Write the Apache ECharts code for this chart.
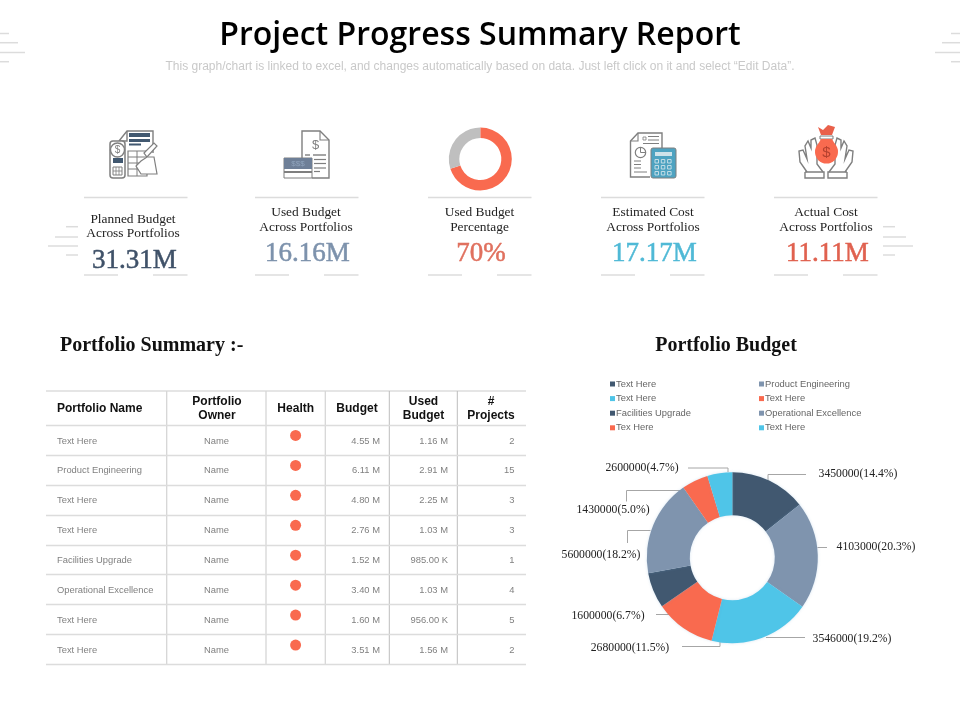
<!DOCTYPE html>
<html>
<head>
<meta charset="utf-8">
<title>Project Progress Summary Report</title>
<script src="https://cdn.jsdelivr.net/npm/echarts@6/dist/echarts.min.js"></script>
<style>
  html, body { margin: 0; padding: 0; background: #fff; }
  #main { width: 960px; height: 720px; }
</style>
</head>
<body>
<div id="main"></div>
<script>
// kpi strip
var kpiLabels = [['Planned Budget', 'Across Portfolios'], ['Used Budget', 'Across Portfolios'], ['Used Budget', 'Percentage'], ['Estimated Cost', 'Across Portfolios'], ['Actual Cost', 'Across Portfolios']];
var kpiValues = ['31.31M', '16.16M', '70%', '17.17M', '11.11M'];
var usedBudgetPercent = 70;

// table
var tableHeaders = [['Portfolio Name'], ['Portfolio', 'Owner'], ['Health'], ['Budget'], ['Used', 'Budget'], ['#', 'Projects']];
var portfolioNames = ['Text Here', 'Product Engineering', 'Text Here', 'Text Here', 'Facilities Upgrade', 'Operational Excellence', 'Text Here', 'Text Here'];
var portfolioOwners = ['Name', 'Name', 'Name', 'Name', 'Name', 'Name', 'Name', 'Name'];
var healthFlags = [1, 1, 1, 1, 1, 1, 1, 1];
var budgets = ['4.55 M', '6.11 M', '4.80 M', '2.76 M', '1.52 M', '3.40 M', '1.60 M', '3.51 M'];
var usedBudgets = ['1.16 M', '2.91 M', '2.25 M', '1.03 M', '985.00 K', '1.03 M', '956.00 K', '1.56 M'];
var projectCounts = ['2', '15', '3', '3', '1', '4', '5', '2'];

// donut
var legendNames = ['Text Here', 'Product Engineering', 'Text Here', 'Text Here', 'Facilities Upgrade', 'Operational Excellence', 'Tex Here', 'Text Here'];
var budgetAmounts = [3450000, 4103000, 3546000, 2680000, 1600000, 5600000, 1430000, 2600000];
var budgetShares = [14.4, 20.3, 19.2, 11.5, 6.7, 18.2, 5.0, 4.7];

// colours
var DARK = '#415870', SLATE = '#7F94AE', CYAN = '#4FC5E8', ORANGE = '#F96A4F', LINE = '#DCDCDC', ICON = '#7F7F7F';
var sliceColors = [DARK, SLATE, CYAN, ORANGE, DARK, SLATE, ORANGE, CYAN];
var kpiColors = ['#3F5168', '#7D92AC', '#E0705E', '#4FB9D6', '#E0614F'];

// layout only, page pixels
var kpiCenters = [133, 306, 479.5, 653, 826];
var kpiRuleLefts = [84, 255, 428, 601, 774];
var columnEdges = [166.7, 266, 325.3, 389.3, 457.3];
var headerCenters = [null, 217, 295.7, 357, 423.5, 491];
// label centre and leader path of each slice
var labelSpots = [[858, 474], [876, 547], [852, 638.5], [630, 648], [608, 616], [601, 555], [613, 510], [642, 468]];
var leaderPaths = [
  [[768, 481], [768, 474.5], [806, 474.5]],
  [[817.5, 547.5], [827, 547.5], [827, 547.5]],
  [[766, 637.5], [766, 637.5], [805, 637.5]],
  [[720, 640], [720, 646.5], [682, 646.5]],
  [[669, 614.5], [669, 614.5], [656, 614.5]],
  [[650.5, 530.5], [627.5, 530.5], [627.5, 543]],
  [[683, 490.5], [626.5, 490.5], [626.5, 501.5]],
  [[728, 472], [728, 468], [688, 468]]
];

var SERIF = '"Liberation Serif", serif', SANS = '"Liberation Sans", sans-serif';
var elements = [];

function txt(x, y, text, size, color, font, align, weight, thicken) {
  elements.push({ type: 'text', x: x, y: y, silent: true, style: {
    text: text, fill: color, font: (weight || 'normal') + ' ' + size + 'px ' + font,
    align: align || 'center', verticalAlign: 'middle',
    stroke: thicken ? color : null, lineWidth: thicken || 0 } });
}
function hline(x1, x2, y, w, color) {
  elements.push({ type: 'line', silent: true, shape: { x1: x1, y1: y, x2: x2, y2: y }, style: { stroke: color || LINE, lineWidth: w || 1.5 } });
}
function vline(x, y1, y2, w, color) {
  elements.push({ type: 'line', silent: true, shape: { x1: x, y1: y1, x2: x, y2: y2 }, style: { stroke: color || LINE, lineWidth: w || 1.5 } });
}
function box(x, y, w, h, fill, stroke, lw, r) {
  elements.push({ type: 'rect', silent: true, shape: { x: x, y: y, width: w, height: h, r: r || 0 },
    style: { fill: fill || 'none', stroke: stroke || 'none', lineWidth: lw || 1 } });
}
function ring(x, y, r, fill, stroke, lw) {
  elements.push({ type: 'circle', silent: true, shape: { cx: x, cy: y, r: r }, style: { fill: fill || 'none', stroke: stroke || 'none', lineWidth: lw || 1 } });
}
function poly(points, stroke, lw, fill) {
  elements.push({ type: fill ? 'polygon' : 'polyline', silent: true, shape: { points: points },
    style: { fill: fill || 'none', stroke: stroke || 'none', lineWidth: lw || 1.4 } });
}

// corner and side dashes
[[33.5, 9], [42.7, 18], [52.5, 25], [61.7, 9]].forEach(function (d) {
  hline(0, d[1], d[0]);
  hline(960 - d[1], 960, d[0]);
});
[[226.7, 12], [237, 23], [246, 30], [255, 12]].forEach(function (d) {
  hline(78 - d[1], 78, d[0]);
  hline(883, 883 + d[1], d[0]);
});

// kpi captions and rules
kpiCenters.forEach(function (cx, i) {
  var shift = i === 0 ? 6.5 : 0, left = kpiRuleLefts[i];
  hline(left, left + 103.5, 197.5);
  hline(left, left + 34, 275);
  hline(left + 69, left + 103.5, 275);
  txt(cx, 212.8 + shift, kpiLabels[i][0], 13.4, '#222', SERIF);
  txt(cx, 227 + shift, kpiLabels[i][1], 13.4, '#222', SERIF);
  txt(cx + 1.5, 254 + shift, kpiValues[i], 27, kpiColors[i], SERIF, 'center', 'normal', 0.5);
});

// icon 1, planned budget
poly([[119, 141], [127, 131], [153, 131], [153, 153]], ICON);
poly([[119, 141], [127, 141], [127, 131]], ICON);
box(110, 141, 15, 37, '#fff', ICON, 1.5, 3);
ring(117.5, 150, 7, '#fff', ICON, 1.4);
txt(117.5, 150.5, '$', 10, ICON, SANS);
box(113, 158, 10, 5, DARK);
box(113, 167, 9, 8, 'none', ICON, 1);
vline(116, 167, 175, 0.8, ICON);
vline(119, 167, 175, 0.8, ICON);
hline(113, 122, 171, 0.8, ICON);
box(129, 133, 21, 4, DARK);
box(129, 139, 21, 3, DARK);
box(129, 143.5, 12, 2, DARK);
box(128, 151, 19, 25, 'none', ICON, 1.2);
hline(128, 147, 157, 1, ICON);
hline(128, 147, 163, 1, ICON);
hline(128, 147, 169, 1, ICON);
vline(137, 151, 176, 1, ICON);
poly([[144, 153], [154, 143], [157, 146], [147, 157]], ICON, 1.2, '#fff');
poly([[147, 157], [154, 157], [157, 174], [141, 174], [136, 166], [141, 161]], ICON, 1.2, '#fff');

// icon 2, used budget
poly([[302, 158], [302, 131], [320, 131], [329, 140], [329, 178], [312, 178]], ICON);
poly([[320, 131], [320, 140], [329, 140]], ICON, 1.1);
txt(315.5, 145.5, '$', 13, ICON, SANS);
hline(305, 310, 155, 1.4, ICON);
hline(313, 326, 155, 1.4, ICON);
hline(314, 326, 159.5, 1.2, ICON);
hline(314, 326, 163.5, 1.2, ICON);
hline(314, 326, 168, 1.2, ICON);
hline(314, 320, 171.5, 1.2, ICON);
box(284, 158, 28, 20, '#fff', ICON, 1);
box(284, 158, 28, 11, '#6E7F97');
box(284, 171, 28, 2, ICON);
txt(298, 163.5, '$$$', 8, '#8FA3BC', SANS);

// icon 4, estimated cost
poly([[650, 177], [630.5, 177], [630.5, 141], [638, 133], [662, 133], [662, 148]], ICON);
poly([[630.5, 141], [638, 141], [638, 133]], ICON, 1.1);
ring(640.5, 152.5, 5.2, 'none', ICON, 1.2);
poly([[640.5, 147.5], [640.5, 152.5], [645.5, 152.5]], ICON, 1);
box(643, 137, 3, 3, 'none', ICON, 0.8);
hline(648, 659, 136.5, 1, ICON);
hline(648, 659, 140, 1, ICON);
hline(643, 659, 143.5, 1, ICON);
hline(634, 641, 161, 1, ICON);
hline(634, 641, 164.5, 1, ICON);
hline(634, 641, 168, 1, ICON);
hline(634, 647, 172, 1, ICON);
box(651, 148, 25, 30, '#4EA3C1', ICON, 1, 2);
box(655, 152, 17, 4, '#CFE3EA');
[0, 1, 2].forEach(function (row) {
  [0, 1, 2].forEach(function (col) {
    box(655 + col * 6.3, 159.5 + row * 6, 3.5, 3.5, 'none', '#CFE3EA', 0.9);
  });
});

// icon 5, actual cost
[1, -1].forEach(function (s) {
  var mx = function (p) { return [826 + s * (p[0] - 826), p[1]]; };
  poly([[805, 172], [805, 178], [824, 178], [824, 172], [805, 172]].map(mx), ICON, 1.4);
  poly([[807, 172], [800, 162], [799, 151], [803, 150], [807, 159], [805, 146], [808, 141], [811, 148], [811, 140], [815, 138], [817, 145], [817, 164], [823, 172]].map(mx), ICON, 1.4);
});
ring(826.5, 152, 11.5, ORANGE);
poly([[818, 127], [823, 130], [828, 125], [835, 127], [832, 135], [821, 135]], null, 1, '#E9604A');
box(820, 136, 13, 3, '#fff', ICON, 1);
poly([[821, 139], [832, 139], [836, 146], [817, 146]], null, 1, ORANGE);
txt(826.5, 153, '$', 15, '#B5412F', SANS);

// section headings
txt(60, 345.5, 'Portfolio Summary :-', 20, '#111', SERIF, 'left', 'bold');
txt(726, 345.5, 'Portfolio Budget', 20, '#111', SERIF, 'center', 'bold');

// table frame and header
hline(46, 526, 391, 1.6);
columnEdges.forEach(function (x, i) {
  vline(x, 391, 664, i < 3 ? 1.3 : 1, i < 3 ? '#D6D6D6' : '#BDBDBD');
});
txt(57, 409, tableHeaders[0][0], 12, '#111', SANS, 'left', 'bold');
tableHeaders.slice(1).forEach(function (lines, i) {
  if (lines.length === 1) {
    txt(headerCenters[i + 1], 409, lines[0], 12, '#111', SANS, 'center', 'bold');
  } else {
    txt(headerCenters[i + 1], 402, lines[0], 12, '#111', SANS, 'center', 'bold');
    txt(headerCenters[i + 1], 416, lines[1], 12, '#111', SANS, 'center', 'bold');
  }
});

// one invisible scatter series per table column, labels carry the cell text
function cellColumn(values, x, align) {
  return {
    type: 'scatter', xAxisIndex: 0, yAxisIndex: 0, silent: true, symbolSize: 1,
    itemStyle: { color: 'transparent' },
    data: values.map(function (v, i) { return [x, i, v]; }),
    label: { show: true, position: 'inside', align: align, verticalAlign: 'middle', color: '#606060', offset: [0, 1],
      fontFamily: SANS, fontSize: 9.4, formatter: function (p) { return p.data[2]; } }
  };
}

var rowIds = portfolioNames.map(function (n, i) { return 'row' + i; });
var slices = budgetShares.map(function (v, i) {
  return { name: 's' + i, value: v, itemStyle: { color: sliceColors[i] } };
});
var legendKeys = slices.map(function (s) { return s.name; });
function legendAt(left, keys) {
  return {
    left: left, top: 378.5, orient: 'vertical', padding: 0, itemWidth: 5, itemHeight: 5, itemGap: 3.6,
    icon: 'rect', selectedMode: false, data: keys,
    textStyle: { color: '#666', fontSize: 9.4, fontFamily: SANS, lineHeight: 11, padding: [0, 0, 0, -4] },
    formatter: function (name) { return legendNames[+name.slice(1)]; }
  };
}

var option = {
  animation: false,
  backgroundColor: '#fff',
  title: {
    left: 'center', top: 15, itemGap: 4, padding: 0,
    text: 'Project Progress Summary Report',
    textStyle: { fontFamily: '"Open Sans", sans-serif', fontWeight: 600, fontSize: 32, color: '#000', lineHeight: 42 },
    subtext: 'This graph/chart is linked to excel, and changes automatically based on data. Just left click on it and select \u201cEdit Data\u201d.',
    subtextStyle: { fontFamily: SANS, fontSize: 12, color: '#C9C9C9', lineHeight: 12 }
  },
  legend: [
    legendAt(610, legendKeys.filter(function (k, i) { return i % 2 === 0; })),
    legendAt(759, legendKeys.filter(function (k, i) { return i % 2 === 1; }))
  ],
  grid: { left: 46, top: 425, width: 480, height: 239.5 },
  xAxis: { type: 'value', min: 46, max: 526, show: false },
  yAxis: {
    type: 'category', inverse: true, data: rowIds,
    axisLine: { show: false }, axisTick: { show: false }, axisLabel: { show: false },
    splitLine: { show: true, lineStyle: { color: LINE, width: 1.4 } }
  },
  series: [
    cellColumn(portfolioNames, 57, 'left'),
    cellColumn(portfolioOwners, 216.5, 'center'),
    cellColumn(budgets, 380, 'right'),
    cellColumn(usedBudgets, 448, 'right'),
    cellColumn(projectCounts, 514.5, 'right'),
    {
      type: 'scatter', silent: true, symbolSize: 11, symbolOffset: [0, -4.5],
      itemStyle: { color: ORANGE, opacity: 1 },
      data: healthFlags.map(function (f, i) { return [295.6, i]; })
    },
    {
      // used budget ring
      type: 'pie', silent: true, center: [480.3, 159], radius: [21, 31.5], startAngle: 90, label: { show: false },
      data: [
        { name: 'Used', value: usedBudgetPercent, itemStyle: { color: ORANGE } },
        { name: 'Remaining', value: 100 - usedBudgetPercent, itemStyle: { color: '#BFBFBF' } }
      ]
    },
    {
      // portfolio budget donut
      type: 'pie', silent: true, center: [732.3, 557.7], radius: [42.5, 85.5], startAngle: 90,
      itemStyle: { shadowBlur: 3, shadowColor: 'rgba(120,170,210,0.3)' },
      data: slices,
      label: {
        show: true, color: '#222', fontFamily: SERIF, fontSize: 11.7, overflow: 'none',
        formatter: function (p) { return budgetAmounts[p.dataIndex] + '(' + budgetShares[p.dataIndex].toFixed(1) + '%)'; }
      },
      labelLine: { show: true, lineStyle: { color: '#A6A6A6', width: 1 } },
      labelLayout: function (p) {
        return {
          x: labelSpots[p.dataIndex][0], y: labelSpots[p.dataIndex][1], align: 'center', verticalAlign: 'middle',
          labelLinePoints: leaderPaths[p.dataIndex]
        };
      }
    }
  ],
  graphic: { elements: elements }
};

var myChart = echarts.init(document.getElementById('main'));
myChart.setOption(option);
</script>
</body>
</html>
